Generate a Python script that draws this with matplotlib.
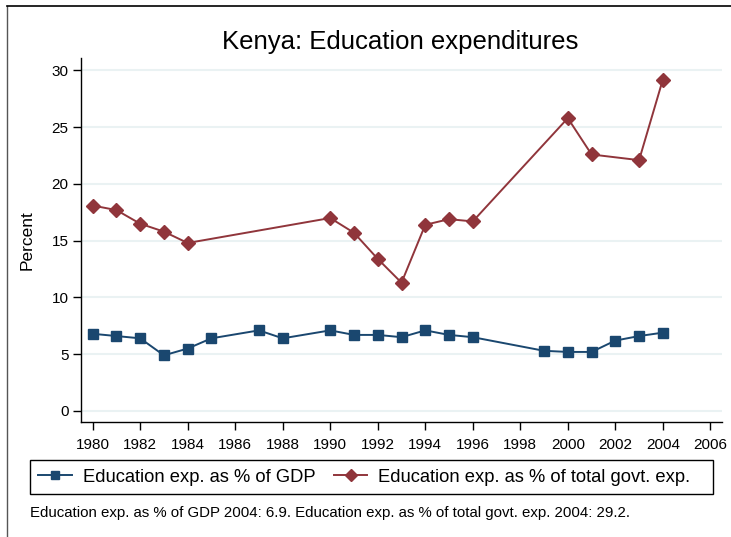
import matplotlib
matplotlib.use("Agg")
import matplotlib.pyplot as plt
from matplotlib.lines import Line2D
from matplotlib.patches import Rectangle

plt.rcParams['font.family'] = ['Liberation Sans', 'DejaVu Sans']

gdp_years = [1980, 1981, 1982, 1983, 1984, 1985, 1987, 1988, 1990, 1991, 1992,
             1993, 1994, 1995, 1996, 1999, 2000, 2001, 2002, 2003, 2004]
gdp_values = [6.8, 6.6, 6.4, 4.9, 5.5, 6.4, 7.1, 6.4, 7.1, 6.7, 6.7,
              6.5, 7.1, 6.7, 6.5, 5.3, 5.2, 5.2, 6.2, 6.6, 6.9]

govt_years = [1980, 1981, 1982, 1983, 1984, 1990, 1991, 1992, 1993, 1994,
              1995, 1996, 2000, 2001, 2003, 2004]
govt_values = [18.1, 17.7, 16.5, 15.8, 14.8, 17.0, 15.7, 13.4, 11.3, 16.4,
               16.9, 16.7, 25.8, 22.6, 22.1, 29.2]

x_ticks = list(range(1980, 2007, 2))
y_ticks = [0, 5, 10, 15, 20, 25, 30]

title = "Kenya: Education expenditures"
ylabel = "Percent"
label_gdp = "Education exp. as % of GDP"
label_govt = "Education exp. as % of total govt. exp."
note = "Education exp. as % of GDP 2004: 6.9. Education exp. as % of total govt. exp. 2004: 29.2."

blue = "#1a476f"
red = "#90353b"

W, H = 731, 537
fig = plt.figure(figsize=(W/100, H/100), dpi=100)
ax = fig.add_axes([81/W, 1-422.3/H, (722-81)/W, (422.3-58)/H])

for y in y_ticks:
    ax.axhline(y, color="#eaf2f3", lw=1.5, zorder=0)

l1, = ax.plot(gdp_years, gdp_values, color=blue, lw=1.4, marker='s', ms=7.5,
              markeredgecolor=blue, label=label_gdp)
l2, = ax.plot(govt_years, govt_values, color=red, lw=1.4, marker='D', ms=7.5,
              markeredgecolor=red, label=label_govt)

ax.set_xlim(1979.51, 2006.49)
ax.set_ylim(-1.0, 31.1)
ax.set_xticks(x_ticks)
ax.set_yticks(y_ticks)
ax.tick_params(axis='both', direction='out', length=6, width=1, labelsize=11,
               colors='black')
ax.tick_params(axis='y', pad=3)
ax.tick_params(axis='x', pad=5)
for s in ['top', 'right']:
    ax.spines[s].set_visible(False)
for s in ['left', 'bottom']:
    ax.spines[s].set_linewidth(1)
ax.set_ylabel(ylabel, fontsize=12.5)
ax.yaxis.set_label_coords((35 - 81) / (722 - 81), 0.5)

fig.text(400/W, 1-42/H, title, ha='center', va='center', fontsize=18.5)

leg = fig.legend(handles=[l1, l2], loc='center left', ncol=2,
                 bbox_to_anchor=(30/W, 1-477/H), fontsize=13.2,
                 frameon=False, markerscale=0.75,
                 handlelength=1.85, columnspacing=0.98, handletextpad=0.6,
                 borderpad=0.44, borderaxespad=0)
fig.add_artist(Rectangle((30/W, 1-494/H), (713-30)/W, (494-460)/H,
                         transform=fig.transFigure, fill=False,
                         edgecolor='black', lw=1))

fig.text(30/W, 1-513/H, note, ha='left', va='center', fontsize=10.8)

fig.add_artist(Line2D([6.5/W, 6.5/W], [0, 1-6/H], transform=fig.transFigure,
                      color='#555555', lw=1))
fig.add_artist(Line2D([6.5/W, 1], [1-6/H, 1-6/H], transform=fig.transFigure,
                      color='black', lw=1.2))

fig.savefig("out.png", dpi=100)
